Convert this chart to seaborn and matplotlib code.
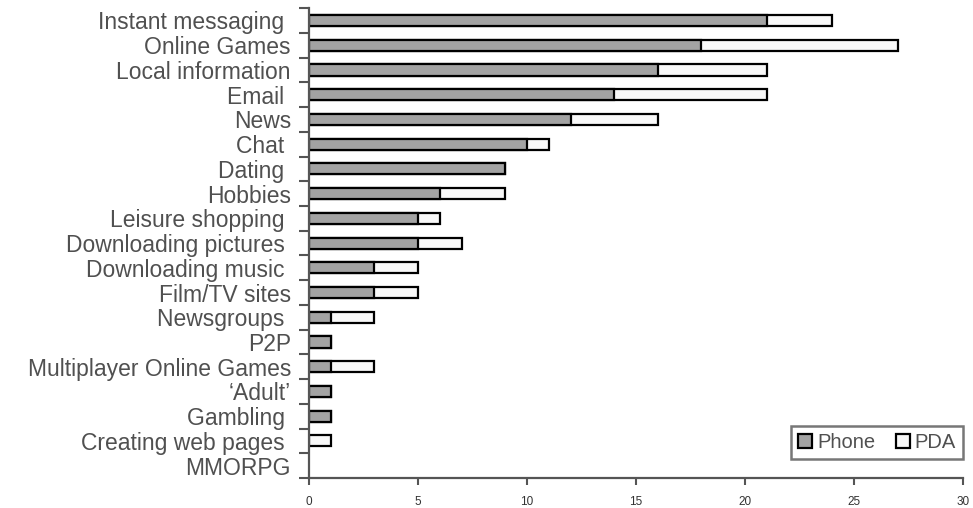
import matplotlib
matplotlib.use("Agg")
import matplotlib.pyplot as plt
import seaborn as sns
import pandas as pd
import numpy as np
from matplotlib.patches import Patch

# data
categories = ["Instant messaging ", "Online Games", "Local information", "Email ", "News",
              "Chat ", "Dating ", "Hobbies", "Leisure shopping ", "Downloading pictures ",
              "Downloading music ", "Film/TV sites", "Newsgroups ", "P2P",
              "Multiplayer Online Games", "\u2018Adult\u2019", "Gambling ",
              "Creating web pages ", "MMORPG"]
phone = [21, 18, 16, 14, 12, 10, 9, 6, 5, 5, 3, 3, 1, 1, 1, 1, 1, 0, 0]
pda = [3, 9, 5, 7, 4, 1, 0, 3, 1, 2, 2, 2, 2, 0, 2, 0, 0, 1, 0]

df = pd.DataFrame({"category": categories, "Phone": phone, "PDA": pda})
df["total"] = df["Phone"] + df["PDA"]

sns.set_style("white")
plt.rcParams["font.family"] = ["Liberation Sans", "DejaVu Sans"]

fig = plt.figure(figsize=(9.73, 5.08), dpi=100)
ax = fig.add_axes([0.3176, 0.059, 0.6721, 0.925])

# PDA stacked on phone: draw totals first, phone on top
sns.barplot(data=df, y="category", x="total", orient="h", color="#f8f8f8",
            saturation=1, width=0.45, edgecolor="black", linewidth=1.6, ax=ax)
sns.barplot(data=df, y="category", x="Phone", orient="h", color="#a3a3a3",
            saturation=1, width=0.45, edgecolor="black", linewidth=1.6, ax=ax)

# hide zero-width bars
for p in ax.patches:
    if p.get_width() == 0:
        p.set_visible(False)

ax.set_xlim(0, 30)
ax.set_ylim(len(categories) - 0.5, -0.5)
ax.set_xticks(range(0, 31, 5))
ax.set_xlabel("")
ax.set_ylabel("")

ax.set_yticks(range(len(categories)))
ax.set_yticklabels(categories, fontsize=16.5, color="#505050")
ax.set_yticks(np.arange(-0.5, len(categories), 1), minor=True)
ax.tick_params(axis="y", which="major", left=True, length=0, pad=13)
ax.tick_params(axis="y", which="minor", left=True, length=7, width=1.5,
               color="#555555", direction="out")
ax.tick_params(axis="x", bottom=True, length=5, width=1.5, color="#555555",
               labelsize=8.5, labelcolor="#333333", pad=8)

for s in ["top", "right"]:
    ax.spines[s].set_visible(False)
for s in ["left", "bottom"]:
    ax.spines[s].set_color("#555555")
    ax.spines[s].set_linewidth(1.6)

handles = [Patch(facecolor="#a3a3a3", edgecolor="black", linewidth=1.6, label="Phone"),
           Patch(facecolor="#f8f8f8", edgecolor="black", linewidth=1.6, label="PDA")]
leg = ax.legend(handles=handles, ncol=2, loc="lower right", bbox_to_anchor=(1.0, 0.04),
                borderaxespad=0, fontsize=14.5, frameon=True, fancybox=False,
                handlelength=0.7, handleheight=0.7, handletextpad=0.25,
                columnspacing=1.0, borderpad=0.35, labelcolor="#505050")
leg.get_frame().set_edgecolor("#555555")
leg.get_frame().set_linewidth(1.8)

fig.savefig("out.png", dpi=100)
